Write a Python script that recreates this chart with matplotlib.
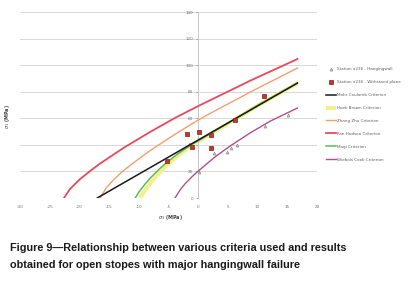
import matplotlib
matplotlib.use("Agg")
import matplotlib.pyplot as plt

# ---- data ----
x_ticks = [-30, -25, -20, -15, -10, -5, 0, 5, 10, 15, 20]
y_ticks = [0, 20, 40, 60, 80, 100, 120, 140]

# measured points
tri_s3 = [0.2, 2.7, 4.9, 5.6, 6.6, 11.3, 15.2]
tri_s1 = [19.6, 33.9, 34.6, 37.6, 39.9, 54.2, 62.5]
sq_s3 = [-5.2, -1.85, 0.2, -1.0, 2.2, 2.2, 6.2, 11.1]
sq_s1 = [27.8, 48.2, 49.7, 38.4, 47.4, 37.6, 58.7, 76.7]

# criteria curves
mc_s3 = [-17.0, 16.7]
mc_s1 = [0.0, 86.5]
hb_s3 = [-9.8, -9.0, -8.0, -7.0, -5.5, -4.0, -2.5, -1.0, 0.0, 5.4, 10.4, 16.7]
hb_s1 = [0.0, 5.5, 11.5, 16.8, 23.6, 29.6, 35.0, 39.8, 42.6, 57.0, 70.5, 86.3]
zz_s3 = [-16.5, -15.5, -14.5, -13.0, -11.4, -8.1, -3.9, 0.0, 3.4, 8.75, 16.7]
zz_s1 = [0.0, 7.6, 12.5, 19.0, 24.8, 35.7, 48.0, 58.7, 67.0, 79.7, 97.8]
ph_s3 = [-22.6, -21.6, -19.9, -18.0, -16.5, -12.3, -8.1, -3.9, 0.0, 8.75, 16.7]
ph_s1 = [0.0, 6.7, 14.2, 21.0, 26.0, 38.5, 49.7, 60.3, 69.2, 88.3, 104.6]
mo_s3 = [-10.6, -10.0, -9.0, -8.0, -6.5, -5.0, -3.5, -2.0, -0.8, 0.0, 5.4, 10.4, 16.7]
mo_s1 = [0.0, 4.4, 10.2, 15.3, 22.0, 27.8, 33.0, 37.6, 41.0, 43.0, 57.4, 70.8, 86.5]
wc_s3 = [-3.9, -3.0, -2.2, -1.0, 0.0, 2.9, 5.4, 8.75, 12.1, 16.7]
wc_s1 = [0.0, 6.4, 10.8, 16.2, 20.3, 31.2, 39.2, 49.0, 57.8, 67.7]

labels = ["Station x236 - Hangingwall",
          "Station x236 - Withstand plane",
          "Mohr Coulomb Criterion",
          "Hoek Brown Criterion",
          "Zhang Zhu Criterion",
          "Pan Hudson Criterion",
          "Mogi Criterion",
          "Wiebols Cook Criterion"]

fig = plt.figure(figsize=(4.09, 2.83), dpi=100)
ax = fig.add_axes([20/409, 1-198/283, (317-20)/409, (198-12)/283])

h_tri, = ax.plot(tri_s3, tri_s1, linestyle='none', marker='^', ms=2.2,
                 mfc='#c0c0c0', mec='#8a8a8a', mew=0.4, zorder=6)
h_sq, = ax.plot(sq_s3, sq_s1, linestyle='none', marker='s', ms=2.8,
                mfc='#c0392b', mec='#7a2020', mew=0.5, zorder=6)
h_hb, = ax.plot(hb_s3, hb_s1, color='#f3f08a', lw=2.8, solid_capstyle='butt', zorder=2)
h_mo, = ax.plot(mo_s3, mo_s1, color='#5cb85c', lw=1.1, zorder=3)
h_mc, = ax.plot(mc_s3, mc_s1, color='#1a1a1a', lw=1.1, zorder=4)
h_zz, = ax.plot(zz_s3, zz_s1, color='#f0a070', lw=1.0, zorder=3)
h_ph, = ax.plot(ph_s3, ph_s1, color='#e84a5a', lw=1.3, zorder=3)
h_wc, = ax.plot(wc_s3, wc_s1, color='#b0508a', lw=1.0, zorder=3)

ax.set_xlim(-30, 20)
ax.set_ylim(0, 140)
ax.set_xticks(x_ticks)
ax.set_yticks(y_ticks)
ax.set_xticklabels([str(v) for v in x_ticks])
ax.set_yticklabels([str(v) for v in y_ticks])
ax.grid(axis='y', color='#d8d8d8', lw=0.7)
ax.set_axisbelow(True)
for s in ['top', 'right', 'bottom']:
    ax.spines[s].set_visible(False)
ax.spines['left'].set_position(('data', 0))
ax.spines['left'].set_color('#c8c8c8')
ax.spines['left'].set_linewidth(0.7)
ax.tick_params(axis='both', labelsize=3, colors='#707070', length=1.5, width=0.4, pad=2)
ax.tick_params(axis='x', length=0, pad=5)

fig.text(8/409, 1-117/283, r'$\sigma_1$ (MPa)', rotation=90, fontsize=3.5,
         color='#404040', ha='center', va='center', fontweight='bold')
fig.text(170/409, 1-217/283, r'$\sigma_3$ (MPa)', fontsize=3.5,
         color='#404040', ha='center', va='center', fontweight='bold')

handles = [h_tri, h_sq, h_mc, h_hb, h_zz, h_ph, h_mo, h_wc]
leg = fig.legend(handles, labels, loc='upper left',
                 bbox_to_anchor=(324/409, 1-65/283), frameon=False,
                 fontsize=3, handlelength=2.3, labelspacing=2.15,
                 handletextpad=0.4, borderpad=0, labelcolor='#606060')

fig.text(10/409, 1-248/283,
         "Figure 9\u2014Relationship between various criteria used and results",
         fontsize=7.8, fontweight='bold', family='Liberation Sans',
         color='#1a1a1a', ha='left', va='center')
fig.text(10/409, 1-265/283,
         "obtained for open stopes with major hangingwall failure",
         fontsize=7.8, fontweight='bold', family='Liberation Sans',
         color='#1a1a1a', ha='left', va='center')

fig.savefig('out.png', dpi=100)
